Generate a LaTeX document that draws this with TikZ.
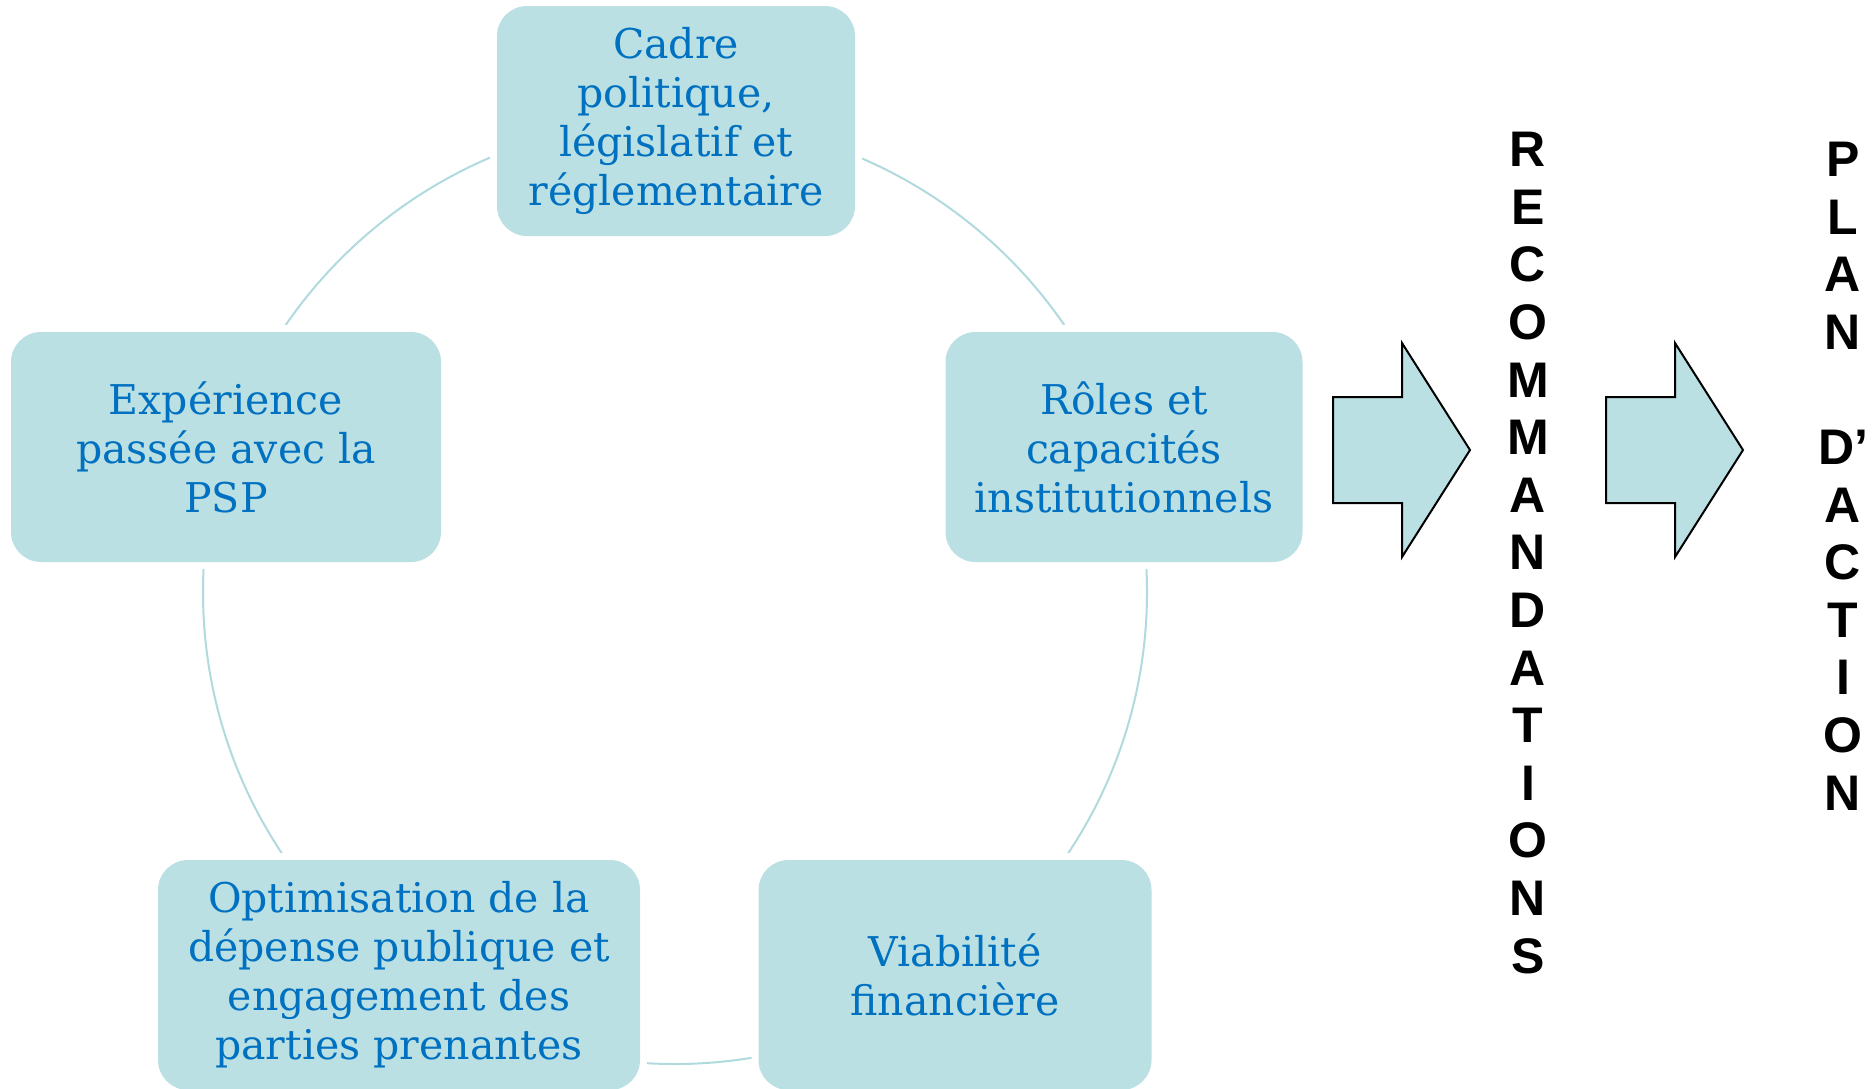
\documentclass[tikz,border=0pt]{standalone}
\usepackage{fontspec}
\setmainfont{DejaVu Serif}
\newfontfamily\capsfont{Liberation Sans}
\definecolor{boxfill}{RGB}{186,224,227}
\definecolor{boxtext}{RGB}{0,112,192}
\definecolor{ringline}{RGB}{176,218,222}
\tikzset{
  topic/.style={rectangle, rounded corners=30, fill=boxfill, text=boxtext, align=center,
    inner sep=0, minimum height=230, font=\fontsize{41}{49}\selectfont,
    preaction={draw=white, line width=14}}, % white rim cuts the ring next to each box
  ring/.style={draw=ringline, line width=2},
  bigarrow/.style={draw=black, fill=boxfill, line width=2, line join=miter},
  column/.style={align=center, inner sep=0, font=\capsfont\bfseries\fontsize{50}{57.6}\selectfont},
}

\begin{document}
\begin{tikzpicture}[x=1pt, y=-1pt]
  \useasboundingbox (0,0) rectangle (1874,1088);
  \clip (0,0) rectangle (1874,1088);

  % ring behind the five topics
  \coordinate (hub) at (675,592);
  \draw[ring] (hub) circle[radius=472];

  \node[topic, minimum width=358] (CADRE) at (676,121) {Cadre\\politique,\\législatif et\\réglementaire};
  \node[topic, minimum width=357] (ROLES) at (1124,447) {Rôles et\\capacités\\institutionnels};
  \node[topic, minimum width=430] (EXPERIENCE) at (226,447) {Expérience\\passée avec la\\PSP};
  \node[topic, minimum width=482] (OPTIMISATION) at (399,975) {Optimisation de la\\dépense publique et\\engagement des\\parties prenantes};
  \node[topic, minimum width=393] (VIABILITE) at (955,975) {Viabilité\\financière};

  % block arrows
  \foreach \dx in {0,273}
    \draw[bigarrow, xshift=\dx] (1333,397) -- (1402,397) -- (1402,343) -- (1470,450)
      -- (1402,557) -- (1402,503) -- (1333,503) -- cycle;

  \node[column] (RECO) at (1528,553) {R\\E\\C\\O\\M\\M\\A\\N\\D\\A\\T\\I\\O\\N\\S};
  \node[column] (PLAN) at (1843,476) {P\\L\\A\\N\\\mbox{}\\D’\\A\\C\\T\\I\\O\\N};
\end{tikzpicture}
\end{document}
